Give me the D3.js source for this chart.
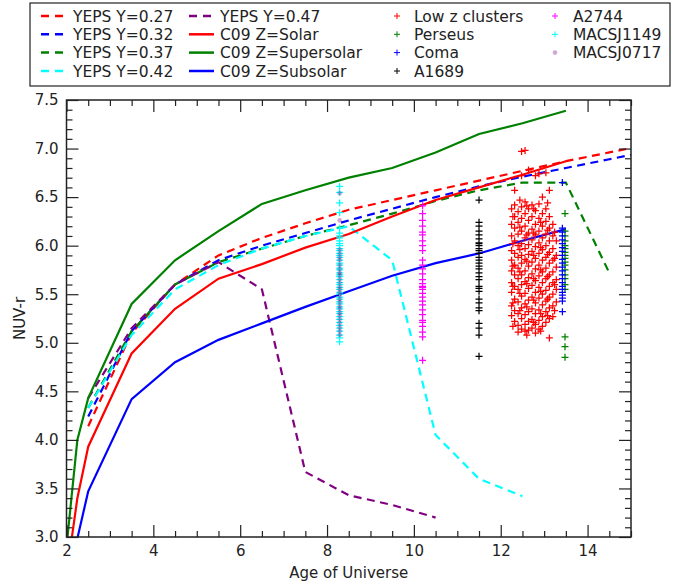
<!DOCTYPE html>
<html>
<head>
<meta charset="utf-8">
<script src="https://cdn.jsdelivr.net/npm/d3@7"></script>
<style>
  body { margin: 0; background: #fff; }
  text { font-family: "DejaVu Sans", sans-serif; fill: #222; }
</style>
</head>
<body>
<svg id="chart" width="688" height="588"></svg>
<script>
// model curves: [age, NUV-r]
const yeps027 = [[2.5,4.14],[3.5,5.10],[4.5,5.60],[5.5,5.90],[6.5,6.08],[7.5,6.23],[8.5,6.37],[9.5,6.47],[10.5,6.57],[11.5,6.67],[12.5,6.77],[13.5,6.87],[14.5,6.96],[15.5,7.05]];
const yeps032 = [[2.5,4.24],[3.5,5.12],[4.5,5.60],[5.5,5.85],[6.5,6.00],[7.5,6.13],[8.5,6.26],[9.5,6.38],[10.5,6.50],[11.5,6.61],[12.5,6.71],[13.5,6.80],[14.5,6.89],[15.5,6.98]];
const yeps037 = [[2.5,4.33],[3.5,5.12],[4.5,5.60],[5.5,5.83],[6.5,5.97],[7.5,6.10],[8.5,6.21],[9.5,6.33],[10.5,6.46],[11.5,6.57],[12.5,6.65],[13.5,6.65],[14.5,5.72]];
const yeps042 = [[2.5,4.33],[3.5,5.08],[4.5,5.55],[5.5,5.80],[6.5,5.97],[7.5,6.10],[8.5,6.20],[9.5,5.85],[10.5,4.05],[11.5,3.60],[12.5,3.42]];
const yeps047 = [[2.5,4.43],[3.5,5.15],[4.5,5.60],[5.5,5.83],[6.5,5.55],[7.5,3.67],[8.5,3.43],[9.5,3.33],[10.5,3.20]];
const c09Solar = [[2.0,2.60],[2.25,3.40],[2.5,3.93],[3.5,4.89],[4.5,5.35],[5.5,5.66],[6.5,5.81],[7.5,5.98],[8.5,6.12],[9.5,6.30],[10.5,6.47],[11.5,6.60],[12.5,6.73],[13.5,6.87]];
const c09Super = [[2.0,2.90],[2.25,4.00],[2.5,4.43],[3.5,5.40],[4.5,5.85],[5.5,6.15],[6.5,6.43],[7.5,6.57],[8.5,6.70],[9.5,6.80],[10.5,6.96],[11.5,7.15],[12.5,7.26],[13.5,7.39]];
const c09Sub = [[2.0,2.50],[2.5,3.47],[3.5,4.42],[4.5,4.80],[5.5,5.03],[6.5,5.20],[7.5,5.37],[8.5,5.53],[9.5,5.69],[10.5,5.82],[11.5,5.92],[12.5,6.05],[13.5,6.17]];

// cluster data: age and colours
const lowZ = [
  [12.25, [6.38,6.22,6.10,5.95,5.85,5.74,5.62,5.52,5.38,5.28]],
  [12.28, [6.30,6.02,5.79,5.58,5.41,5.17]],
  [12.32, [6.57,6.42,6.30,6.18,6.05,5.92,5.80,5.70,5.58,5.45,5.33,5.22]],
  [12.40, [6.35,6.24,6.12,6.00,5.88,5.77,5.66,5.55,5.42,5.30,5.18,5.11]],
  [12.44, [6.47,6.19,5.96,5.73,5.51,5.33]],
  [12.48, [6.97,6.72,6.40,6.28,6.15,6.02,5.90,5.82,5.70,5.60,5.48,5.36,5.25,5.14]],
  [12.56, [6.98,6.45,6.33,6.20,6.08,5.97,5.86,5.74,5.63,5.51,5.40,5.29,5.19,5.12]],
  [12.60, [6.41,6.11,5.84,5.61,5.37,5.08]],
  [12.64, [6.78,6.38,6.26,6.13,6.01,5.91,5.79,5.67,5.56,5.44,5.32,5.22,5.13]],
  [12.72, [6.42,6.30,6.17,6.06,5.94,5.83,5.71,5.59,5.47,5.35,5.24,5.15]],
  [12.76, [6.38,6.13,5.90,5.66,5.44,5.21]],
  [12.80, [6.72,6.36,6.22,6.11,5.99,5.87,5.76,5.64,5.52,5.41,5.30,5.19,5.10]],
  [12.88, [6.74,6.43,6.28,6.15,6.03,5.92,5.80,5.69,5.57,5.46,5.34,5.23,5.14]],
  [12.92, [6.24,5.98,5.75,5.53,5.30,5.12]],
  [12.96, [6.50,6.33,6.20,6.08,5.96,5.85,5.73,5.62,5.50,5.39,5.27,5.17]],
  [13.04, [6.75,6.38,6.25,6.12,6.00,5.88,5.77,5.66,5.54,5.43,5.32,5.21]],
  [13.08, [6.44,6.16,5.91,5.68,5.45,5.28]],
  [13.12, [6.57,6.30,6.18,6.05,5.93,5.82,5.70,5.58,5.47,5.36,5.25,5.05]],
  [13.20, [6.22,6.10,5.97,5.85,5.73,5.62,5.50,5.38,5.27]],
  [13.24, [6.14,5.87,5.60,5.33]],
  [13.28, [6.05,5.90,5.78,5.65,5.55,5.42]]
];
const perseusAge = 13.48;
const perseus = [6.33,6.15,6.10,6.05,6.00,5.97,5.93,5.90,5.87,5.83,5.80,5.75,5.70,5.66,5.60,5.55,5.06,4.96,4.85];
const comaAge = 13.42;
const coma = [6.65,6.18,6.14,6.10,6.06,6.02,5.98,5.94,5.90,5.86,5.82,5.78,5.74,5.70,5.66,5.62,5.58,5.55,5.52,5.49,5.46,5.43,5.32];
const a1689Age = 11.5;
const a1689 = [6.47,6.24,6.20,6.15,6.11,6.07,6.03,6.02,6.00,5.97,5.95,5.92,5.88,5.85,5.82,5.79,5.76,5.72,5.68,5.65,5.58,5.56,5.53,5.45,5.41,5.36,5.33,5.20,5.15,5.08,4.86];
const a2744Age = 10.2;
const a2744 = [6.41,6.33,6.26,6.20,6.14,6.11,6.05,6.00,5.95,5.85,5.80,5.76,5.71,5.65,5.61,5.58,5.57,5.55,5.51,5.47,5.43,5.39,5.34,5.29,5.23,5.21,5.17,5.11,5.06,4.82];
const macs1149Age = 8.29;
const macs1149 = [6.61,6.55,6.44,6.34,6.18,6.13,6.10,6.08,6.05,6.02,6.00,5.97,5.95,5.92,5.90,5.88,5.85,5.82,5.80,5.77,5.75,5.72,5.70,5.68,5.65,5.62,5.60,5.57,5.55,5.52,5.50,5.47,5.45,5.42,5.40,5.37,5.35,5.32,5.30,5.27,5.24,5.21,5.18,5.15,5.12,5.08,5.05,5.01];
const macs0717Age = 8.29;
const macs0717 = [6.54,6.26,5.96,5.92,5.88,5.85,5.80,5.76,5.72,5.70,5.66,5.62,5.58,5.55,5.52,5.49,5.45,5.42,5.38,5.35,5.31,5.28,5.24,5.20,5.16,5.12,5.08];

const xTicks = [2,4,6,8,10,12,14];
const yTicks = [3.0,3.5,4.0,4.5,5.0,5.5,6.0,6.5,7.0,7.5];

const lineSeries = [
  {name:"YEPS Y=0.27", data:yeps027, color:"#ff0000", dash:true},
  {name:"YEPS Y=0.32", data:yeps032, color:"#0000ff", dash:true},
  {name:"YEPS Y=0.37", data:yeps037, color:"#008000", dash:true},
  {name:"YEPS Y=0.42", data:yeps042, color:"#00ffff", dash:true},
  {name:"YEPS Y=0.47", data:yeps047, color:"#800080", dash:true},
  {name:"C09 Z=Solar", data:c09Solar, color:"#ff0000", dash:false},
  {name:"C09 Z=Supersolar", data:c09Super, color:"#008000", dash:false},
  {name:"C09 Z=Subsolar", data:c09Sub, color:"#0000ff", dash:false}
];

const svg = d3.select("#chart");
const L = 66.5, R = 631, T = 100, B = 537;
const x = d3.scaleLinear().domain([2, 15]).range([L, R]);
const y = d3.scaleLinear().domain([3, 7.5]).range([B, T]);

svg.append("defs").append("clipPath").attr("id", "clip")
  .append("rect").attr("x", L).attr("y", T).attr("width", R - L).attr("height", B - T);

const plot = svg.append("g").attr("clip-path", "url(#clip)");

const line = d3.line().x(d => x(d[0])).y(d => y(d[1]));
for (let s of lineSeries) {
  plot.append("path")
    .attr("d", line(s.data))
    .attr("fill", "none")
    .attr("stroke", s.color)
    .attr("stroke-width", 2.2)
    .attr("stroke-dasharray", s.dash ? "8,5.5" : null);
}

function plus(g, pts, color, size) {
  let h = size / 2;
  let p = d3.path();
  for (let d of pts) {
    let px = x(d[0]), py = y(d[1]);
    p.moveTo(px - h, py); p.lineTo(px + h, py);
    p.moveTo(px, py - h); p.lineTo(px, py + h);
  }
  g.append("path").attr("d", p).attr("fill", "none").attr("stroke", color).attr("stroke-width", 1.25);
}

let lowPts = [];
for (let c of lowZ) for (let v of c[1]) lowPts.push([c[0], v]);
plus(plot, lowPts, "#ff0000", 7);
plus(plot, perseus.map(v => [perseusAge, v]), "#008000", 7);
plus(plot, coma.map(v => [comaAge, v]), "#0000ff", 7);
plus(plot, a1689.map(v => [a1689Age, v]), "#000000", 7);
plus(plot, a2744.map(v => [a2744Age, v]), "#ff00ff", 7);
plus(plot, macs1149.map(v => [macs1149Age, v]), "#00ffff", 7);
plot.selectAll("circle.m0717").data(macs0717).join("circle")
  .attr("class", "m0717")
  .attr("cx", x(macs0717Age)).attr("cy", d => y(d)).attr("r", 2.3)
  .attr("fill", "#800080").attr("fill-opacity", 0.35);

// ticks on all four sides, pointing inward
const xMinor = d3.range(2, 15.01, 0.5).filter(v => xTicks.indexOf(v) < 0);
const yMinor = d3.range(30, 75.1, 1).map(v => v / 10).filter(v => Math.abs(v * 2 - Math.round(v * 2)) > 1e-6);

function addAxis(gen, tr, vals, size, labels) {
  let g = svg.append("g").attr("transform", tr)
    .call(gen.tickValues(vals).tickSize(-size).tickPadding(8)
      .tickFormat(labels ? labels : () => ""));
  g.select(".domain").remove();
  g.selectAll(".tick line").attr("stroke", "#222").attr("stroke-width", 1.2);
  g.selectAll("text").style("font-size", "15px").attr("fill", "#222");
  return g;
}
addAxis(d3.axisBottom(x), `translate(0,${B})`, xTicks, 12, d3.format("d"));
addAxis(d3.axisBottom(x), `translate(0,${B})`, xMinor, 6, null);
addAxis(d3.axisTop(x), `translate(0,${T})`, xTicks, 12, null);
addAxis(d3.axisTop(x), `translate(0,${T})`, xMinor, 6, null);
addAxis(d3.axisLeft(y), `translate(${L},0)`, yTicks, 12, d3.format(".1f"));
addAxis(d3.axisLeft(y), `translate(${L},0)`, yMinor, 6, null);
addAxis(d3.axisRight(y), `translate(${R},0)`, yTicks, 12, null);
addAxis(d3.axisRight(y), `translate(${R},0)`, yMinor, 6, null);

svg.append("rect").attr("x", L).attr("y", T).attr("width", R - L).attr("height", B - T)
  .attr("fill", "none").attr("stroke", "#222").attr("stroke-width", 1.5);

svg.append("text").attr("x", (L + R) / 2).attr("y", 578).attr("text-anchor", "middle")
  .style("font-size", "15px").text("Age of Universe");
svg.append("text").attr("transform", `translate(25,${(T + B) / 2}) rotate(-90)`)
  .attr("text-anchor", "middle").style("font-size", "15px").text("NUV-r");

// legend
const leg = svg.append("g");
leg.append("rect").attr("x", 30).attr("y", 3).attr("width", 640).attr("height", 83)
  .attr("fill", "#fff").attr("stroke", "#222").attr("stroke-width", 1.2);
const rowY = [16, 34.3, 52.6, 71];
const legLines = [
  [lineSeries[0], 0, 0], [lineSeries[1], 0, 1], [lineSeries[2], 0, 2], [lineSeries[3], 0, 3],
  [lineSeries[4], 1, 0], [lineSeries[5], 1, 1], [lineSeries[6], 1, 2], [lineSeries[7], 1, 3]
];
const colLineX = [41, 189], colTextX = [73, 220];
for (let [s, c, r] of legLines) {
  leg.append("line").attr("x1", colLineX[c]).attr("x2", colLineX[c] + 25)
    .attr("y1", rowY[r]).attr("y2", rowY[r])
    .attr("stroke", s.color).attr("stroke-width", 2.5)
    .attr("stroke-dasharray", s.dash ? "8,6" : null);
  leg.append("text").attr("x", colTextX[c]).attr("y", rowY[r]).attr("dy", "0.36em")
    .style("font-size", "15.5px").text(s.name);
}
const legMarks = [
  ["Low z clusters", "#ff0000", 2, 0], ["Perseus", "#008000", 2, 1], ["Coma", "#0000ff", 2, 2], ["A1689", "#000000", 2, 3],
  ["A2744", "#ff00ff", 3, 0], ["MACSJ1149", "#00ffff", 3, 1], ["MACSJ0717", null, 3, 2]
];
const markX = [397, 555], markTextX = [414, 573];
for (let [name, color, c, r] of legMarks) {
  let mx = markX[c - 2], my = rowY[r];
  if (color) {
    leg.append("path").attr("d", `M${mx - 3},${my}H${mx + 3}M${mx},${my - 3}V${my + 3}`)
      .attr("stroke", color).attr("stroke-width", 1);
  } else {
    leg.append("circle").attr("cx", mx).attr("cy", my).attr("r", 2.3)
      .attr("fill", "#800080").attr("fill-opacity", 0.35);
  }
  leg.append("text").attr("x", markTextX[c - 2]).attr("y", my).attr("dy", "0.36em")
    .style("font-size", "15.5px").text(name);
}
</script>
</body>
</html>
